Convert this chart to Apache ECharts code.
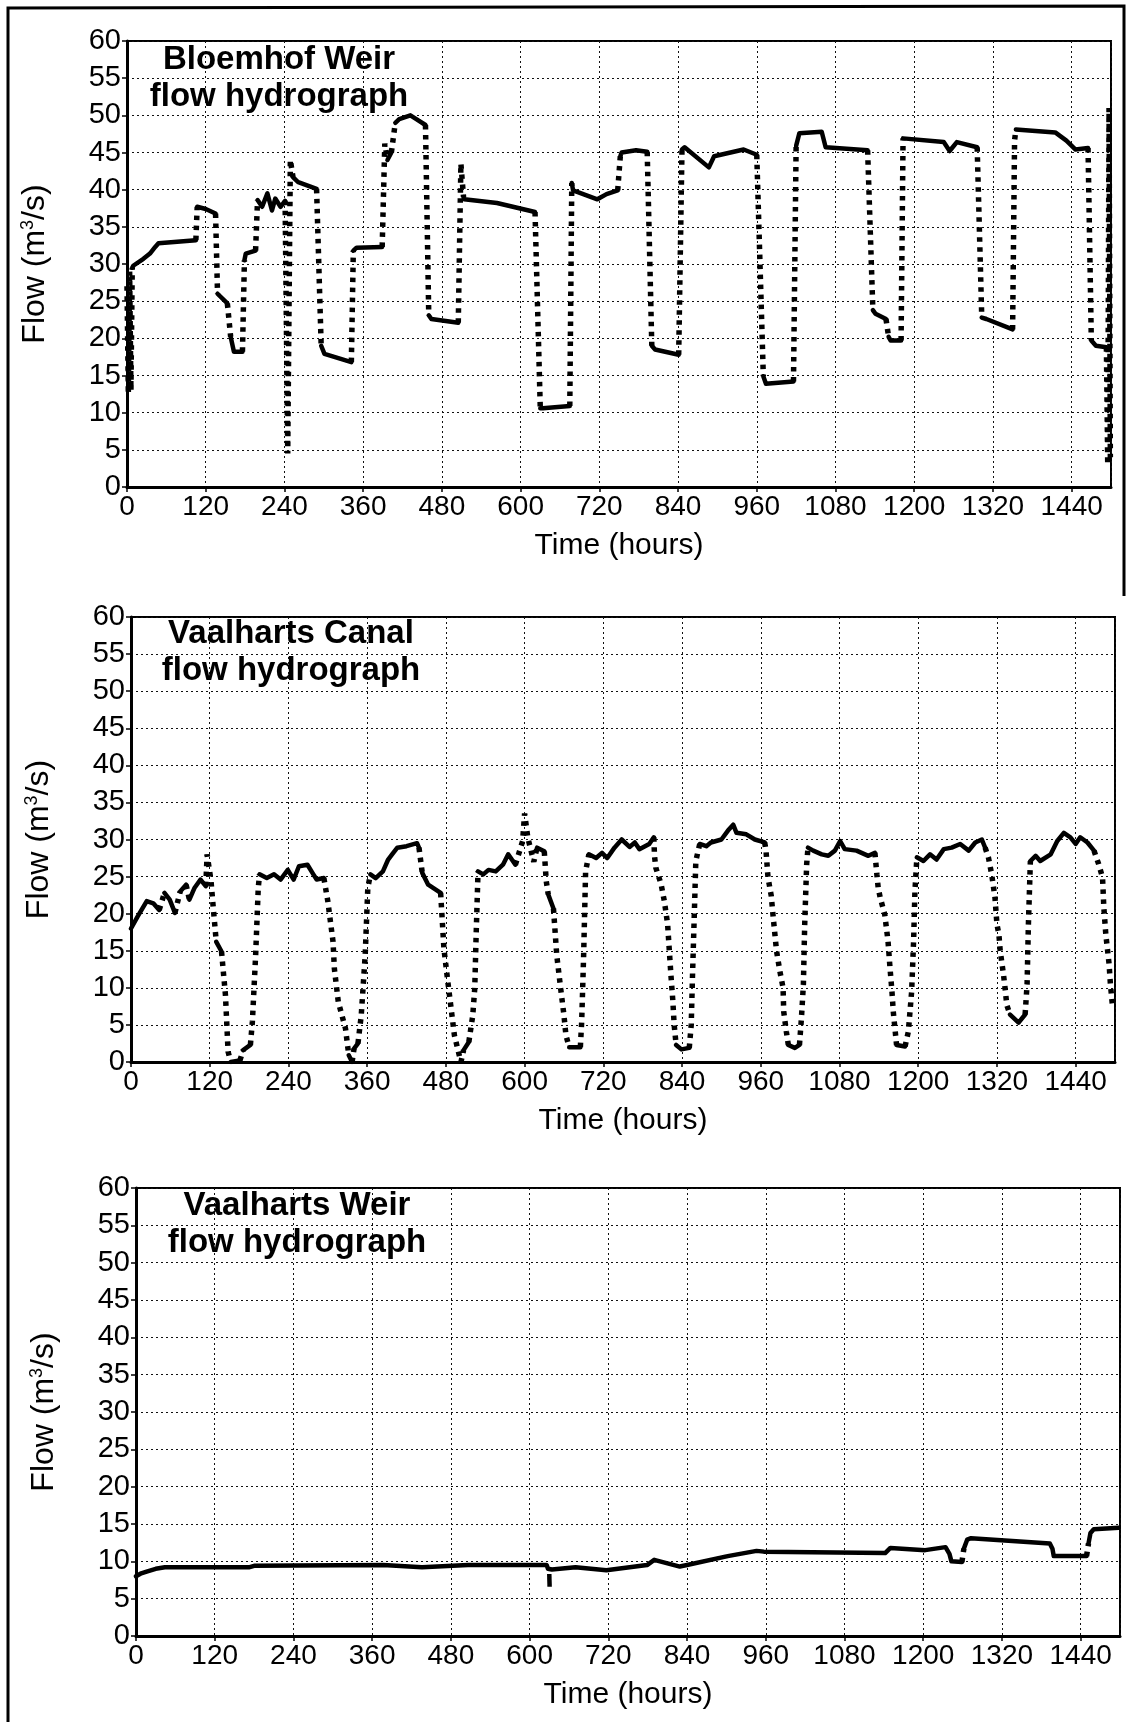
<!DOCTYPE html>
<html>
<head>
<meta charset="utf-8">
<script src="https://cdn.jsdelivr.net/npm/echarts@6/dist/echarts.min.js"></script>
<style>
html,body{margin:0;padding:0;background:#fff;}
#chart{width:1129px;height:1722px;}
</style>
</head>
<body>
<div id="chart"></div>
<script>
// ---------------- data (hours, m3/s) ----------------
const xTicks = [0,120,240,360,480,600,720,840,960,1080,1200,1320,1440];
const yTicks = [0,5,10,15,20,25,30,35,40,45,50,55,60];
const panelTitles = ['Bloemhof Weir\nflow hydrograph','Vaalharts Canal\nflow hydrograph','Vaalharts Weir\nflow hydrograph'];

const bloemhofWeir = [
 [0,27],[2,12.5],[4,29],[6,13],[8,29.5],[10,29.8],[25,30.7],[35,31.4],[43,32.3],[48,32.8],[105,33.2],
 [107,37.7],[120,37.4],[135,36.8],[138,26],[153,24.7],[158,20.2],[163,18.2],[176,18.2],[179,30.5],
 [181,31.4],[196,31.8],[199,38.6],[206,37.7],[214,39.5],[221,37.2],[226,38.8],[234,37.7],[241,38.5],
 [245,4.5],[249,44],[253,41.7],[261,41],[289,40.1],[296,19],[301,17.9],[342,16.8],[345,31.8],[350,32.2],
 [389,32.3],[393,46.2],[397,44],[403,45],[409,49],[415,49.5],[432,50],[441,49.5],[455,48.7],[460,23.1],
 [464,22.6],[505,22.1],[509,43.5],[513,39],[514,38.7],[564,38.2],[622,37],[630,10.6],[634,10.6],
 [675,10.9],[678,40.9],[680,39.9],[717,38.7],[731,39.4],[748,39.9],[752,44.5],[754,45],[776,45.3],
 [793,45.1],[800,19],[805,18.5],[841,17.8],[846,45.4],[850,45.7],[887,43],[895,44.5],[940,45.4],
 [960,44.7],[970,14.9],[974,13.9],[1016,14.2],[1020,45.9],[1025,47.6],[1059,47.8],[1065,45.7],
 [1129,45.3],[1137,23.8],[1141,23.3],[1157,22.6],[1161,20.2],[1164,19.7],[1180,19.7],[1183,46.9],
 [1245,46.4],[1254,45.2],[1265,46.4],[1296,45.7],[1303,22.8],[1310,22.6],[1350,21.2],[1353,46.6],
 [1355,48.1],[1415,47.7],[1432,46.6],[1446,45.4],[1465,45.6],[1470,19.7],[1477,19],[1493,18.8],
 [1495,3],[1497,51],[1499,4]
];

const vaalhartsCanal = [
 [0,18],[10,19.6],[24,21.7],[34,21.4],[43,20.5],[51,22.8],[59,21.9],[67,20.1],[75,23],[84,23.9],
 [89,21.9],[97,23.5],[106,24.6],[114,23.7],[116,28],[122,24.4],[125,21.2],[130,16.2],[138,14.9],
 [144,9],[148,1.4],[152,0],[166,0.2],[171,1.6],[182,2.3],[185,5.4],[190,14.4],[194,23.5],[196,25.3],
 [207,24.8],[218,25.3],[228,24.6],[239,25.9],[248,24.6],[256,26.4],[269,26.6],[278,25.3],[283,24.6],
 [294,24.8],[300,21.7],[308,16.2],[310,12.6],[316,8.1],[327,4.5],[332,0.9],[337,0],[340,1.8],
 [346,2.5],[351,6.3],[357,14.4],[361,23.5],[365,25.3],[373,24.8],[384,25.7],[392,27.3],[398,28],
 [406,28.9],[420,29.1],[436,29.5],[439,28.9],[444,25.5],[453,23.9],[472,22.8],[474,19.8],[477,15.3],
 [483,10.8],[488,7.2],[493,3.6],[499,1.4],[503,0],[507,1.6],[515,2.7],[521,6.3],[524,9.9],[526,16.7],
 [529,25.7],[537,25.3],[545,25.9],[556,25.7],[567,26.6],[575,28],[586,26.6],[597,29.8],[600,33.5],
 [605,30.2],[614,27],[619,28.9],[630,28.4],[633,24.4],[636,22.6],[644,20.7],[649,14.4],[655,9.9],
 [660,6.3],[663,3.6],[668,2],[685,2],[687,5.4],[690,14.4],[693,25.7],[698,28],[709,27.5],[718,28.2],
 [726,27.5],[737,28.9],[748,30],[760,29],[768,29.6],[775,28.7],[790,29.4],[797,30.3],[798,27.8],
 [800,26.2],[808,24],[813,21.7],[818,18.6],[821,14.5],[823,11.8],[826,8.2],[828,5],[831,2.3],
 [839,1.7],[851,1.9],[854,5],[856,11.8],[859,20.8],[861,27.1],[867,29.4],[877,29.1],[884,29.6],
 [900,30],[910,31.2],[918,32],[923,30.9],[938,30.7],[951,30],[966,29.6],[968,28.5],[971,24.9],
 [976,22.4],[979,19.5],[984,15],[989,12.3],[994,10],[995,6.8],[999,4.1],[1002,2.3],[1012,1.9],
 [1019,2.3],[1022,5.9],[1025,10.5],[1027,18.6],[1030,26.7],[1032,28.9],[1040,28.5],[1053,28],
 [1063,27.8],[1073,28.5],[1081,29.8],[1088,28.7],[1106,28.5],[1124,27.8],[1134,28.2],[1137,25.3],
 [1139,23.5],[1142,22.2],[1149,19.9],[1154,16.3],[1157,12.7],[1160,9.5],[1162,6.8],[1165,4.1],
 [1167,2.3],[1180,2.1],[1185,4.1],[1190,9.5],[1193,16.3],[1195,23],[1198,27.6],[1208,27.1],[1218,28],
 [1228,27.3],[1239,28.7],[1251,28.9],[1264,29.4],[1277,28.5],[1287,29.6],[1297,30],[1302,28.9],
 [1307,27.6],[1312,25.3],[1317,22.2],[1320,18.6],[1323,17.2],[1325,15],[1330,11.8],[1333,9.5],
 [1335,7.7],[1340,6.4],[1353,5.3],[1363,6.4],[1366,10.5],[1368,18.6],[1371,27.1],[1379,27.8],
 [1386,27.1],[1402,28],[1412,29.8],[1422,30.9],[1432,30.3],[1440,29.4],[1447,30.3],[1458,29.6],
 [1468,28.5],[1475,26.7],[1481,24.9],[1483,20.8],[1486,17.2],[1491,13.2],[1493,10.5],[1496,7.7]
];

const vaalhartsWeir = [
 [0,8],[8,8.4],[15,8.6],[30,9],[44,9.2],[172,9.2],[180,9.4],[377,9.5],[436,9.2],[506,9.5],[626,9.5],
 [628,9],[634,8.9],[670,9.2],[717,8.8],[779,9.5],[790,10.2],[829,9.3],[840,9.5],[902,10.7],[946,11.4],
 [957,11.3],[1142,11.1],[1150,11.8],[1203,11.5],[1234,11.9],[1240,11],[1243,10],[1259,9.9],[1262,11.7],
 [1267,12.9],[1273,13.1],[1393,12.4],[1397,11.7],[1399,10.7],[1449,10.7],[1452,12.4],[1455,13.8],
 [1460,14.3],[1498,14.5]
];
const vaalhartsWeirMark = [[630,8.3],[630.5,6.6]];

// ---------------- layout ----------------
const FONT = 'Liberation Sans, Arial, sans-serif';
const grids = [
  {left:127, top:41, width:984, height:446},
  {left:131, top:617, width:984, height:445},
  {left:136, top:1188, width:984, height:448}
];
const titlePos = [[279,41],[291,615],[297,1187]];
const steepThreshold = [0.5, 0.25, 0.5];

function splitSteep(points, thr){
  const solid=[], dotted=[];
  for(let i=0;i<points.length-1;i++){
    const a=points[i], b=points[i+1];
    const dx=Math.max(Math.abs(b[0]-a[0]),0.001);
    const steep=Math.abs(b[1]-a[1])/dx>thr;
    const t=steep?dotted:solid;
    const last=t[t.length-1];
    if(!last || last[0]!==a[0] || last[1]!==a[1]){
      if(last) t.push([a[0],'-']);
      t.push(a);
    }
    t.push(b);
  }
  return {solid, dotted};
}

const xAxes=[], yAxes=[], series=[], titles=[];
const allData=[bloemhofWeir, vaalhartsCanal, vaalhartsWeir];
grids.forEach((g,i)=>{
  g.show=true; g.borderColor='#000'; g.borderWidth=2; g.backgroundColor='transparent';
  xAxes.push({
    gridIndex:i, type:'value', min:0, max:1500, interval:120,
    name:'Time (hours)', nameLocation:'middle', nameGap:44,
    nameTextStyle:{fontFamily:FONT, fontSize:30, color:'#000'},
    axisLine:{show:true, onZero:false, lineStyle:{color:'#000', width:3}},
    axisTick:{show:true, length:5, lineStyle:{color:'#000', width:1.5}},
    axisLabel:{fontFamily:FONT, fontSize:28, color:'#000', margin:6, showMaxLabel:false,
      formatter:v=> xTicks.indexOf(v)>=0 ? String(v) : ''},
    splitLine:{show:true, lineStyle:{color:'#111', width:1, type:[2,3]}}
  });
  yAxes.push({
    gridIndex:i, type:'value', min:0, max:60, interval:5,
    name:'Flow (m{sup|3}/s)', nameLocation:'middle', nameGap:76,
    nameTextStyle:{fontFamily:FONT, fontSize:32, color:'#000',
      rich:{sup:{fontFamily:FONT, fontSize:18, color:'#000', verticalAlign:'top', lineHeight:18}}},
    axisLine:{show:true, lineStyle:{color:'#000', width:3}},
    axisTick:{show:true, length:5, lineStyle:{color:'#000', width:1.5}},
    axisLabel:{fontFamily:FONT, fontSize:29, color:'#000', margin:6,
      formatter:v=> yTicks.indexOf(v)>=0 ? String(v) : ''},
    splitLine:{show:true, lineStyle:{color:'#111', width:1, type:[2,3]}}
  });
  titles.push({
    text:panelTitles[i], left:titlePos[i][0], top:titlePos[i][1], textAlign:'center',
    padding:0,
    textStyle:{fontFamily:FONT, fontWeight:'bold', fontSize:33, lineHeight:37, color:'#000'}
  });
  const parts=splitSteep(allData[i], steepThreshold[i]);
  series.push({
    type:'line', xAxisIndex:i, yAxisIndex:i, data:parts.solid, symbol:'none',
    connectNulls:false, animation:false,
    lineStyle:{color:'#000', width:4.5, cap:'round', join:'round'}, z:5
  });
  series.push({
    type:'line', xAxisIndex:i, yAxisIndex:i, data:parts.dotted, symbol:'none',
    connectNulls:false, animation:false,
    lineStyle:{color:'#000', width:5.5, type:[4.5,5.5], cap:'butt'}, z:5
  });
});
series.push({
  type:'line', xAxisIndex:2, yAxisIndex:2, data:vaalhartsWeirMark, symbol:'none', animation:false,
  lineStyle:{color:'#000', width:4.5}, z:5
});

const chart = echarts.init(document.getElementById('chart'), null, {renderer:'canvas'});
chart.setOption({
  backgroundColor:'#fff',
  animation:false,
  title:titles,
  grid:grids,
  xAxis:xAxes,
  yAxis:yAxes,
  series:series,
  graphic:[
    {type:'polyline', shape:{points:[[8,1722],[8,8],[1124,6],[1124,596]]},
     style:{stroke:'#000', lineWidth:3, fill:null}, z:10}
  ]
});
</script>
</body>
</html>
